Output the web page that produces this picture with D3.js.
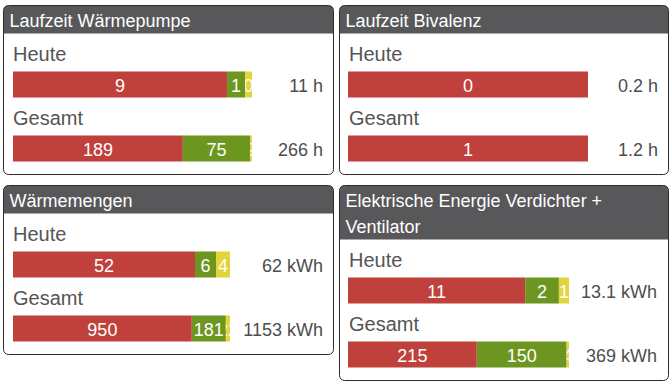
<!DOCTYPE html>
<html>
<head>
<meta charset="utf-8">
<script src="https://cdn.jsdelivr.net/npm/d3@7"></script>
<style>
  body { margin: 0; background: #fff; }
  svg text { font-family: "Liberation Sans", Arial, sans-serif; }
</style>
</head>
<body>
<div id="chart"></div>
<script>
// data
var panelTitles = ["Laufzeit Wärmepumpe", "Laufzeit Bivalenz", "Wärmemengen", "Elektrische Energie Verdichter + Ventilator"];
var rowLabels = ["Heute", "Gesamt"];
var units = ["h", "h", "kWh", "kWh"];

// segments: [rot, grün, gelb]
var waermepumpeHeute = [9.4, 0.8, 0.3];
var waermepumpeGesamt = [189, 75, 2];
var bivalenzHeute = [0.2, 0, 0];
var bivalenzGesamt = [1.2, 0, 0];
var waermeHeute = [52, 6, 4];
var waermeGesamt = [950, 181, 22];
var energieHeute = [10.5, 2.0, 0.6];
var energieGesamt = [215, 150, 4];

var totalLabels = [["11", "266"], ["0.2", "1.2"], ["62", "1153"], ["13.1", "369"]];

var series = [
  [waermepumpeHeute, waermepumpeGesamt],
  [bivalenzHeute, bivalenzGesamt],
  [waermeHeute, waermeGesamt],
  [energieHeute, energieGesamt]
];

var colors = ["#c0413c", "#6c961f", "#e3d43b"];

var svg = d3.select("#chart")
  .append("svg")
  .attr("width", 672)
  .attr("height", 384);

// layout of the four boxes
var boxes = [
  {x: 3.5, y: 5.5, w: 330, h: 169, head: 28, lines: [panelTitles[0]], bx0: 13, bx1: 252, tx: 323},
  {x: 339.5, y: 5.5, w: 329, h: 169, head: 28, lines: [panelTitles[1]], bx0: 348, bx1: 588, tx: 658},
  {x: 3.5, y: 185.5, w: 330, h: 169, head: 28, lines: [panelTitles[2]], bx0: 13, bx1: 230, tx: 323},
  {x: 339.5, y: 185.5, w: 329, h: 195, head: 54, lines: ["Elektrische Energie Verdichter +", "Ventilator"], bx0: 348, bx1: 569, tx: 657}
];

boxes.forEach(function(b, i) {
  var g = svg.append("g");
  var clipId = "box" + i;

  g.append("clipPath").attr("id", clipId)
    .append("rect")
    .attr("x", b.x).attr("y", b.y)
    .attr("width", b.w).attr("height", b.h)
    .attr("rx", 5);

  g.append("rect")
    .attr("x", b.x).attr("y", b.y)
    .attr("width", b.w).attr("height", b.head)
    .attr("fill", "#58585a")
    .attr("clip-path", "url(#" + clipId + ")");

  g.selectAll("text.title")
    .data(b.lines)
    .enter().append("text")
    .attr("class", "title")
    .attr("x", b.x + 6)
    .attr("y", function(d, k) { return b.y + 21 + k * 26; })
    .attr("fill", "#fff")
    .style("font-size", "18px")
    .text(function(d) { return d; });

  g.append("rect")
    .attr("x", b.x).attr("y", b.y)
    .attr("width", b.w).attr("height", b.h)
    .attr("rx", 5)
    .attr("fill", "none")
    .attr("stroke", "#2b2b2b")
    .attr("stroke-width", 1);

  var base = b.y + b.head - 28;

  rowLabels.forEach(function(lbl, r) {
    var rowY = base + 55 + r * 64;
    var barY = base + 66 + r * 64;
    var vals = series[i][r];
    var sum = d3.sum(vals);
    var x = d3.scaleLinear().domain([0, sum]).range([b.bx0, b.bx1]);
    var ends = Array.from(d3.cumsum(vals));
    var segs = vals.map(function(v, k) {
      return {v: v, s: k ? ends[k - 1] : 0, e: ends[k], c: colors[k], id: "c" + i + r + k};
    }).filter(function(d) { return d.v > 0; });

    g.append("text")
      .attr("x", b.x + 9.5)
      .attr("y", rowY)
      .attr("fill", "#555")
      .style("font-size", "20px")
      .text(lbl);

    var sg = g.selectAll("g.seg" + r)
      .data(segs)
      .enter().append("g")
      .attr("class", "seg" + r);

    sg.append("clipPath")
      .attr("id", function(d) { return d.id; })
      .append("rect")
      .attr("x", function(d) { return x(d.s); })
      .attr("y", barY)
      .attr("width", function(d) { return x(d.e) - x(d.s); })
      .attr("height", 26);

    sg.append("rect")
      .attr("x", function(d) { return x(d.s); })
      .attr("y", barY)
      .attr("width", function(d) { return x(d.e) - x(d.s); })
      .attr("height", 26)
      .attr("fill", function(d) { return d.c; });

    sg.append("text")
      .attr("clip-path", function(d) { return "url(#" + d.id + ")"; })
      .attr("x", function(d) { return (x(d.s) + x(d.e)) / 2; })
      .attr("y", barY + 20)
      .attr("text-anchor", "middle")
      .attr("fill", "#fff")
      .style("font-size", "18px")
      .text(function(d) { return Math.round(d.v); });

    g.append("text")
      .attr("x", b.tx)
      .attr("y", barY + 20)
      .attr("text-anchor", "end")
      .attr("fill", "#4d4d4d")
      .style("font-size", "18px")
      .text(totalLabels[i][r] + " " + units[i]);
  });
});
</script>
</body>
</html>
